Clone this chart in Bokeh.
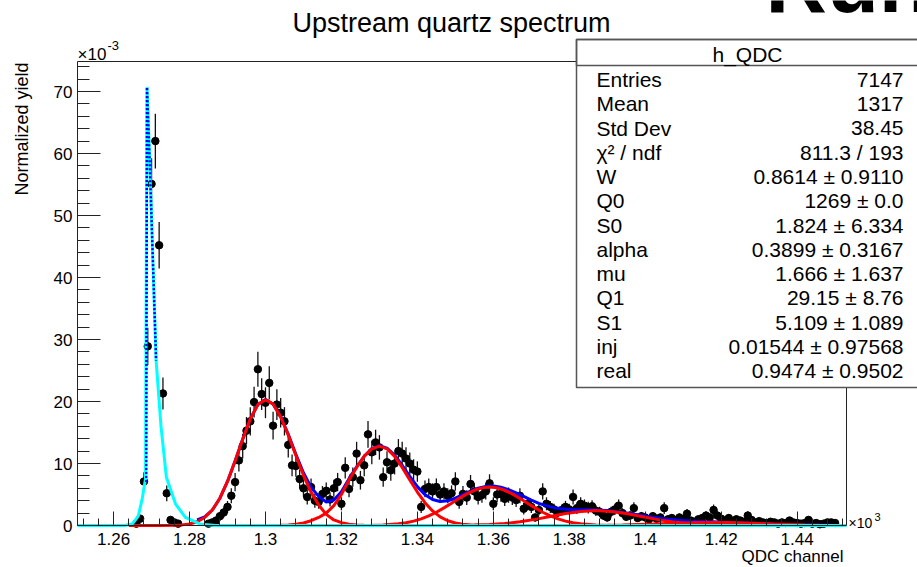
from bokeh.plotting import figure
from bokeh.models import Range1d, FixedTicker, LinearAxis, Label, BoxAnnotation, ColumnDataSource
from bokeh.embed import file_html
from bokeh.resources import INLINE

# ---------------- data ----------------
qdc_channel = list(range(1266, 1451))          # bin centres, QDC channels
yield_e3 = [                                   # normalized yield, x 10^-3
    0.3, 1.1, 7.1, 28.9, 55.1, 62.0, 45.2, 21.3, 5.2, 0.9,
    0.5, 0.3, 0, 0, 0, 0, 0, 0, 0, 0.3,
    0.5, 0.8, 1.5, 2.1, 3.0, 4.8, 7.0, 10.5, 12.8, 15.3,
    16.8, 19.9, 25.2, 21.2, 19.8, 23.0, 16.1, 19.5, 18.2, 16.8,
    13.0, 9.7, 9.6, 7.5, 6.0, 4.6, 6.2, 4.0, 3.8, 5.1,
    5.6, 4.2, 6.0, 7.0, 3.5, 9.3, 5.9, 7.8, 11.6, 7.3,
    9.7, 14.7, 11.8, 13.4, 12.6, 7.8, 10.2, 8.9, 10.0, 12.0,
    11.6, 10.8, 10.0, 9.0, 8.7, 3.0, 5.9, 6.2, 5.5, 6.2,
    5.0, 5.5, 4.8, 5.2, 7.1, 3.8, 5.1, 4.5, 6.7, 5.5,
    4.6, 4.9, 5.5, 6.8, 3.5, 5.0, 5.1, 4.3, 4.9, 4.5,
    4.1, 4.8, 2.7, 3.5, 3.0, 1.3, 2.5, 5.5, 3.5, 3.0,
    2.6, 2.1, 2.5, 3.0, 2.6, 4.6, 2.8, 3.5, 3.2, 2.9,
    3.1, 2.4, 2.2, 1.6, 1.3, 2.2, 2.6, 3.2, 2.0, 1.4,
    1.6, 2.8, 1.2, 1.5, 1.3, 1.0, 1.5, 1.1, 1.3, 2.8,
    1.0, 1.2, 0.8, 1.3, 1.0, 1.9, 0.8, 0.6, 1.0, 1.2,
    1.6, 1.3, 2.5, 1.6, 1.1, 0.8, 1.2, 0.7, 1.0, 0.8,
    0.6, 1.6, 0.9, 0.5, 0.7, 0.5, 0.4, 0.6, 0.5, 0.3,
    0.5, 0.4, 0.8, 0.5, 0.4, 0.3, 0.4, 0.9, 0.3, 0.4,
    0.2, 0.3, 0.5, 0.5, 0.4,
]
yield_err = [
    0.31, 0.59, 1.49, 3.0, 4.15, 4.4, 3.76, 2.58, 1.27, 0.53,
    0.40, 0.31, 0, 0, 0, 0, 0, 0, 0, 0.31,
    0.40, 0.50, 0.68, 0.81, 0.97, 1.22, 1.48, 1.81, 2.0, 2.19,
    2.29, 2.49, 2.81, 2.57, 2.49, 2.68, 2.24, 2.47, 2.38, 2.29,
    2.02, 1.74, 1.73, 1.53, 1.37, 1.20, 1.39, 1.12, 1.09, 1.26,
    1.32, 1.15, 1.37, 1.48, 1.05, 1.70, 1.36, 1.56, 1.90, 1.51,
    1.74, 2.14, 1.92, 2.05, 1.98, 1.56, 1.79, 1.67, 1.77, 1.94,
    1.90, 1.84, 1.77, 1.68, 1.65, 0.97, 1.36, 1.39, 1.31, 1.39,
    1.25, 1.31, 1.22, 1.27, 1.49, 1.09, 1.26, 1.19, 1.45, 1.31,
    1.20, 1.24, 1.31, 1.46, 1.05, 1.25, 1.26, 1.16, 1.24, 1.19,
    1.13, 1.22, 0.92, 1.05, 0.97, 0.64, 0.88, 1.31, 1.05, 0.97,
    0.90, 0.81, 0.88, 0.97, 0.90, 1.20, 0.94, 1.05, 1.00, 0.95,
    0.98, 0.87, 0.83, 0.71, 0.64, 0.83, 0.90, 1.00, 0.79, 0.66,
    0.71, 0.94, 0.61, 0.68, 0.64, 0.56, 0.68, 0.59, 0.64, 0.94,
    0.56, 0.61, 0.50, 0.64, 0.56, 0.77, 0.50, 0.43, 0.56, 0.61,
    0.71, 0.64, 0.88, 0.71, 0.59, 0.50, 0.61, 0.47, 0.56, 0.50,
    0.43, 0.71, 0.53, 0.40, 0.47, 0.40, 0.35, 0.43, 0.40, 0.31,
    0.40, 0.35, 0.50, 0.40, 0.35, 0.31, 0.35, 0.53, 0.31, 0.35,
    0.25, 0.31, 0.40, 0.40, 0.35,
]

# fit curves
cyan_x = [1250.5, 1263.0, 1265.0, 1266.5, 1267.6, 1268.4, 1268.8, 1269.5, 1270.35,
          1271.2, 1272.5, 1273.9, 1276.3, 1278.9, 1283.0, 1287.0, 1453.0]
cyan_y = [0, 0, 0.3, 1.5, 4.5, 7.5, 70.7, 58.9, 42.7, 26.6, 15.9, 7.8, 3.5, 1.3, 0.2, 0, 0]

blue_dot_x = [1268.6, 1268.8, 1269.5, 1270.35, 1271.2]
blue_dot_y = [7.0, 70.7, 58.9, 42.7, 26.6]

red1_x = [1264, 1268, 1272, 1276, 1278, 1280, 1282, 1284, 1286, 1288, 1290, 1292, 1294, 1296,
          1298, 1300, 1302, 1304, 1306, 1308, 1310, 1312, 1314, 1316, 1318, 1320, 1322, 1324, 1326]
red1_y = [0, 0, 0, 0.04, 0.1, 0.25, 0.6, 1.3, 2.5, 4.4, 7.1, 10.4, 13.9, 17.2,
          19.5, 20.3, 19.6, 17.5, 14.6, 11.3, 8.1, 5.4, 3.3, 1.8, 0.9, 0.45, 0.2, 0.08, 0.03]

red2_x = [1300, 1304, 1306, 1308, 1310, 1312, 1314, 1316, 1318, 1320, 1322, 1324, 1326, 1328,
          1330, 1332, 1334, 1336, 1338, 1340, 1342, 1344, 1346, 1348, 1350, 1352, 1354, 1356, 1360]
red2_y = [0, 0.04, 0.09, 0.19, 0.40, 0.77, 1.30, 2.0, 3.2, 5.0, 7.36, 9.37, 11.15, 12.37,
          12.8, 12.37, 11.15, 9.37, 7.36, 5.39, 3.68, 2.35, 1.40, 0.77, 0.40, 0.19, 0.09, 0.04, 0]

red3_x = [1327, 1331, 1335, 1337, 1339, 1341, 1343, 1345, 1347, 1349, 1351, 1353, 1355, 1357,
          1359, 1361, 1363, 1365, 1367, 1369, 1371, 1373, 1375, 1377, 1379, 1381, 1383, 1387, 1391]
red3_y = [0.02, 0.09, 0.27, 0.45, 0.71, 1.07, 1.55, 2.14, 2.84, 3.60, 4.38, 5.10, 5.68, 6.07,
          6.20, 6.07, 5.68, 5.10, 4.38, 3.60, 2.84, 2.14, 1.55, 1.07, 0.71, 0.45, 0.27, 0.09, 0.02]

red4_x = [1351, 1355, 1359, 1363, 1367, 1371, 1375, 1379, 1383, 1387, 1391, 1395, 1399, 1403,
          1407, 1411, 1415, 1419, 1423]
red4_y = [0.03, 0.07, 0.16, 0.32, 0.60, 0.99, 1.46, 1.92, 2.27, 2.40, 2.27, 1.92, 1.46, 0.99,
          0.60, 0.32, 0.16, 0.07, 0.03]

red5_x = [1386, 1390, 1394, 1398, 1402, 1406, 1410, 1414, 1418, 1422, 1426, 1430, 1434, 1438,
          1442, 1446, 1450]
red5_y = [0.02, 0.05, 0.09, 0.16, 0.23, 0.33, 0.41, 0.48, 0.5, 0.48, 0.41, 0.33, 0.23, 0.16,
          0.09, 0.05, 0.02]

blue_x = list(range(1282, 1453, 2))
blue_y = [0.9, 1.4, 2.5, 4.4, 7.1, 10.4, 13.9, 17.2, 19.5, 20.3,
          19.6, 17.55, 14.7, 11.5, 8.5, 6.17, 4.7, 3.8, 4.1, 5.45,
          7.56, 9.45, 11.17, 12.41, 12.86, 12.49, 11.36, 9.72, 7.93, 6.27,
          4.98, 4.19, 3.88, 3.98, 4.40, 4.97, 5.55, 6.03, 6.30, 6.36,
          6.17, 5.79, 5.27, 4.69, 4.09, 3.58, 3.17, 2.88, 2.69, 2.59,
          2.55, 2.54, 2.53, 2.48, 2.41, 2.27, 2.11, 1.93, 1.74, 1.53,
          1.33, 1.16, 1.02, 0.89, 0.79, 0.72, 0.67, 0.62, 0.585, 0.54,
          0.51, 0.45, 0.41, 0.37, 0.33, 0.28, 0.23, 0.2, 0.16, 0.12,
          0.09, 0.07, 0.05, 0.035, 0.02, 0.01]

x_ticks = [1260, 1280, 1300, 1320, 1340, 1360, 1380, 1400, 1420, 1440]
x_tick_labels = ["1.26", "1.28", "1.3", "1.32", "1.34", "1.36", "1.38", "1.4", "1.42", "1.44"]
x_minor = list(range(1252, 1453, 4))
y_ticks = [0, 10, 20, 30, 40, 50, 60, 70]
y_minor = list(range(0, 75, 2))

stat_names = ["Entries", "Mean", "Std Dev", "\u03c7\u00b2 / ndf", "W", "Q0", "S0",
              "alpha", "mu", "Q1", "S1", "inj", "real"]
stat_values = ["7147", "1317", "38.45", "811.3 / 193", "0.8614 \u00b1 0.9110",
               "1269 \u00b1 0.0", "1.824 \u00b1 6.334", "0.3899 \u00b1 0.3167",
               "1.666 \u00b1 1.637", "29.15 \u00b1 8.76", "5.109 \u00b1 1.089",
               "0.01544 \u00b1 0.97568", "0.9474 \u00b1 0.9502"]

# ---------------- layout (page pixels) ----------------
W, H = 917, 567
FL, FR, FT, FB = 77, 846, 61, 525        # ROOT frame edges in page pixels
X0, X1 = 1250.5, 1453.0                  # axis range
Y0, Y1 = 0.0, 74.84


def dx(px):
    return X0 + (px - FL) * (X1 - X0) / (FR - FL)


def dy(py):
    return Y0 + (FB - py) * (Y1 - Y0) / (FB - FT)


FONT = "Liberation Sans"
AX = "#222222"

# the plotting area covers the whole canvas; axes sit at fixed data locations
p = figure(width=W, height=H, x_range=Range1d(dx(0), dx(W)), y_range=Range1d(dy(H), dy(0)),
           output_backend="svg", toolbar_location=None,
           min_border_left=0, min_border_right=0, min_border_top=0, min_border_bottom=0)
p.title.visible = False
p.outline_line_color = None
p.grid.visible = False
p.background_fill_color = "white"
p.border_fill_color = "white"

xa = p.xaxis[0]
xa.fixed_location = Y0
xa.bounds = (X0, X1)
xa.ticker = FixedTicker(ticks=x_ticks, minor_ticks=x_minor)
xa.major_label_overrides = {t: s for t, s in zip(x_ticks, x_tick_labels)}
xa.major_tick_in = 14
xa.major_tick_out = 0
xa.minor_tick_in = 7
xa.minor_tick_out = 0
xa.major_label_standoff = 7
ya = p.yaxis[0]
ya.fixed_location = X0
ya.bounds = (Y0, Y1)
ya.ticker = FixedTicker(ticks=y_ticks, minor_ticks=y_minor)
ya.major_tick_in = 23
ya.major_tick_out = 0
ya.minor_tick_in = 12
ya.minor_tick_out = 0
ya.major_label_standoff = 5
for ax in (xa, ya):
    ax.axis_line_color = AX
    ax.major_tick_line_color = AX
    ax.minor_tick_line_color = AX
    ax.major_label_text_font = FONT
    ax.major_label_text_font_size = "17px"
    ax.major_label_text_color = "black"

# top and right frame edges
p.add_layout(LinearAxis(fixed_location=X1, bounds=(Y0, Y1), ticker=FixedTicker(ticks=[]),
                        axis_line_color=AX, major_tick_in=0, major_tick_out=0,
                        minor_tick_in=0, minor_tick_out=0, major_label_text_font_size="0px"), "right")
p.add_layout(LinearAxis(fixed_location=Y1, bounds=(X0, X1), ticker=FixedTicker(ticks=[]),
                        axis_line_color=AX, major_tick_in=0, major_tick_out=0,
                        minor_tick_in=0, minor_tick_out=0, major_label_text_font_size="0px"), "above")

# ---------------- data points ----------------
pts = [(c, v, e) for c, v, e in zip(qdc_channel, yield_e3, yield_err) if v > 0]
src = ColumnDataSource(dict(x=[a[0] for a in pts], y=[a[1] for a in pts],
                            lo=[a[1] - a[2] for a in pts], hi=[a[1] + a[2] for a in pts]))
p.segment(x0="x", y0="lo", x1="x", y1="hi", source=src, line_color="#111111", line_width=1.3)
p.scatter(x="x", y="y", source=src, size=7.5, marker="circle", fill_color="black", line_color="black")

# ---------------- fit curves ----------------
p.line(blue_x, blue_y, line_color="#0000ff", line_width=3)
for rx, ry in ((red1_x, red1_y), (red2_x, red2_y), (red3_x, red3_y), (red4_x, red4_y), (red5_x, red5_y)):
    p.line(rx, ry, line_color="#ff0000", line_width=3)
p.line(cyan_x, cyan_y, line_color="#00ffff", line_width=3)
p.line(blue_dot_x, blue_dot_y, line_color="#0000ff", line_width=2.5, line_dash="2 2")


# ---------------- texts ----------------
def lab(px, base, text, size, align="left", style="normal"):
    """Place a text whose alphabetic baseline is at page-pixel row `base`."""
    p.add_layout(Label(x=dx(px), y=dy(base - 0.33 * size), text=text, text_font=FONT,
                       text_font_size=f"{size}px", text_align=align, text_baseline="middle",
                       text_font_style=style, text_color="black"))


lab(451, 31, "Upstream quartz spectrum", 27, align="center")
lab(765, 10, "Run", 85, style="bold")
p.add_layout(Label(x=dx(21), y=dy(62), text="Normalized yield", text_font=FONT,
                   text_font_size="18px", text_align="right", text_baseline="middle",
                   angle=1.5708, text_color="black"))
lab(843, 562, "QDC channel", 17, align="right")
lab(77, 60, "\u00d710", 17)
lab(107, 49, "-3", 13)
lab(848, 527, "\u00d710", 14)
lab(874, 520, "3", 11)

# ---------------- stats box ----------------
BOX_L, BOX_R, BOX_T, BOX_HDR, BOX_B = 576, 930, 39, 65, 387
p.add_layout(BoxAnnotation(left=dx(BOX_L), right=dx(BOX_R), top=dy(BOX_T), bottom=dy(BOX_B),
                           fill_color="white", fill_alpha=1.0, line_color="#555555",
                           line_width=1.5, line_alpha=1.0))
p.add_layout(BoxAnnotation(left=dx(BOX_L), right=dx(BOX_R), top=dy(BOX_T), bottom=dy(BOX_HDR),
                           fill_alpha=0.0, line_color="#555555", line_width=1.5, line_alpha=1.0))
lab(747, 61, "h_QDC", 21, align="center")
for i, (n, v) in enumerate(zip(stat_names, stat_values)):
    base = 86 + 24.25 * i
    lab(596, base, n, 21)
    lab(903, base, v, 21, align="right")

open("out.html", "w").write(file_html(p, INLINE))
